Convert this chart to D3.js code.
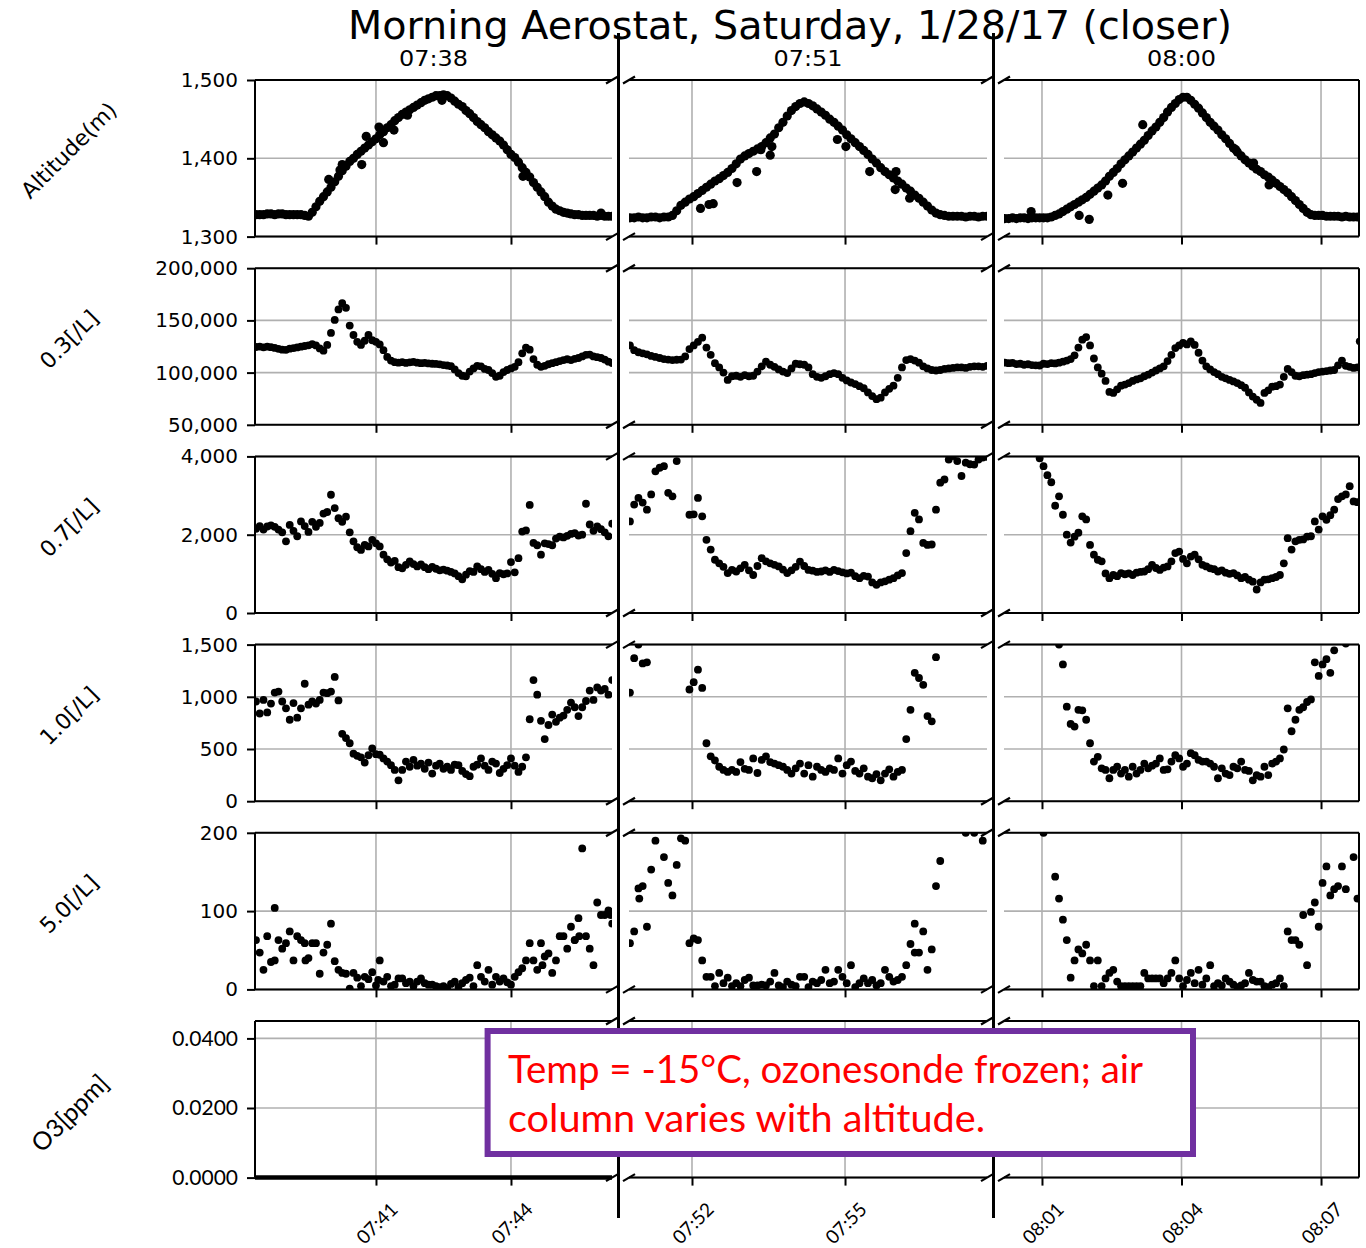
<!DOCTYPE html>
<html><head><meta charset="utf-8">
<script src="https://cdn.jsdelivr.net/npm/d3@7"></script>
<style>body{margin:0;background:#fff}</style>
</head><body>
<svg id="c" width="1366" height="1248"></svg>
<script>
// ================= DATA =================
const chartTitle = "Morning Aerostat, Saturday, 1/28/17 (closer)";
const columnHeaders = ["07:38","07:51","08:00"];
const columnStart = ["07:38:20","07:50:47","08:00:12"];   // first sample of each segment
const sampleStepSec = 5;
const columnDomain = [["07:38:18.7","07:46:14.7"],["07:50:45.9","07:57:47"],["08:00:11","08:07:49"]];
const columnTicks = [["07:41","07:44"],["07:52","07:55"],["08:01","08:04","08:07"]];
const rowLabels = ["Altitude(m)","0.3[/L]","0.7[/L]","1.0[/L]","5.0[/L]","O3[ppm]"];
const rowDomains = [[1300,1500],[50000,200000],[0,4000],[0,1500],[0,200],[0,0.045]];
const rowTicks = [[1300,1400,1500],[50000,100000,150000,200000],[0,2000,4000],[0,500,1000,1500],[0,100,200],[0,0.02,0.04]];
const noteLines = ["Temp = -15°C, ozonesonde frozen; air","column varies with altitude."];

// Altitude (m)
const alt1 = [1328,1328,1328,1329,1329,1328,1329,1329,1328,1328,
1328,1328,1328,1327,1326,1331,1338,1345,1351,1357,
1363,1370,1377,1384,1390,1396,1400,1405,1409,1413,
1417,1421,1425,1430,1434,1439,1443,1448,1452,1456,
1459,1462,1465,1468,1471,1474,1476,1478,1480,1480,
1481,1480,1477,1473,1469,1466,1461,1457,1452,1447,
1443,1439,1434,1430,1426,1422,1417,1411,1405,1401,
1395,1388,1382,1376,1369,1363,1357,1351,1344,1339,
1335,1333,1331,1330,1329,1328,1328,1327,1327,1327,
1327,1326,1327,1326,1326,1326];
const alt2 = [1324,1324,1325,1324,1324,1325,1325,1324,1325,1325,
1327,1333,1340,1344,1348,1351,1355,1359,1363,1367,
1371,1374,1378,1382,1387,1393,1399,1403,1406,1409,
1412,1415,1420,1426,1431,1439,1446,1454,1461,1466,
1470,1472,1470,1467,1463,1459,1455,1450,1446,1441,
1436,1430,1425,1420,1415,1410,1405,1399,1394,1388,
1383,1379,1375,1371,1367,1362,1358,1353,1349,1344,
1339,1334,1330,1328,1327,1326,1326,1326,1326,1325,
1326,1326,1325,1326,1326];
const alt3 = [1323,1323,1324,1323,1324,1324,1323,1324,1324,1324,
1324,1324,1325,1327,1329,1332,1335,1338,1341,1344,
1347,1350,1354,1358,1362,1366,1371,1377,1382,1387,
1393,1398,1403,1408,1413,1418,1423,1429,1435,1440,
1446,1452,1459,1465,1470,1475,1478,1478,1474,1469,
1464,1458,1452,1446,1441,1436,1430,1425,1419,1413,
1408,1403,1398,1394,1390,1386,1383,1379,1376,1372,
1368,1364,1360,1356,1351,1346,1341,1336,1331,1328,
1327,1327,1327,1326,1326,1326,1326,1325,1326,1325,
1325,1325];
// scattered altitude readings: [seconds after segment start, value]
const altOut1 = [[97,1373],[112,1385],[115,1392],[141,1392],[147,1428],[164,1440],[170,1420],[184,1436],[202,1455],[248,1474],[356,1377],[460,1330]];
const altOut2 = [[83,1336],[93,1341],[98,1342],[126,1369],[149,1383],[154,1411],[165,1404],[167,1415],[244,1424],[254,1415],[282,1383],[313,1383],[312,1360],[329,1349]];
const altOut3 = [[34,1332],[96,1327],[109,1322],[133,1353],[152,1368],[178,1443],[298,1411],[321,1394],[341,1366]];

// 0.3 um [/L]
const p03_1 = [124500,124900,124200,124800,124400,123600,122800,122000,121800,122900,
123500,124100,124800,125500,126100,127300,126000,123200,121000,126500,
138000,150500,160500,166500,162000,145000,136000,129500,126500,130500,
136000,131000,129500,127000,121500,115000,111500,110000,109500,110000,
109300,109800,110200,109500,109000,109300,108800,108500,108300,107900,
107200,106800,106200,103000,99500,97000,96500,101000,104000,106500,
106000,103500,102500,99500,96000,97000,100500,102500,104000,105500,
110000,118500,124000,122000,113000,107500,105500,106500,108000,109000,
110000,111000,112000,112800,112000,113200,114000,115500,117000,117300,
115500,114800,114000,112500,110500,109000];
const p03_2 = [126000,121500,119500,118500,117500,116000,115000,114000,113000,112500,
112000,112300,112500,115500,122500,126000,129500,133500,124000,117000,
109000,105000,100000,93000,96500,97000,96000,97500,96500,97000,
101000,106000,110500,107500,105500,103000,101000,99500,104000,108500,
108000,107500,105000,98500,96000,95000,96500,98500,99500,98500,
95000,92500,90500,89000,87000,85000,81000,77500,74500,76000,
81000,84500,87500,95000,105000,112000,113000,111500,109500,106000,
104000,102500,102000,102500,103500,104000,104500,105000,105000,104500,
105500,106000,106000,105500,106500];
const p03_3 = [109500,109000,109300,108200,108500,107500,108000,107200,107000,106800,
108500,108200,109000,108800,109500,110500,111500,113000,116500,124000,
131500,134000,126000,113500,105000,99000,92000,81500,80500,84000,
87500,88500,90000,92000,93500,94500,96500,98000,100000,102000,
104000,106000,111000,117000,123500,126000,128500,127000,130000,126500,
119000,111500,106000,103000,100500,98500,96000,94500,93000,91500,
90000,88000,85500,81000,77000,74000,71000,80500,83000,86500,
87000,88500,96000,103500,100500,97000,96500,97500,98000,98500,
99500,100500,101000,101500,102000,102500,107000,111500,106500,105500,
104500,105000];
const p03Out3 = [[458,130000]];

// 0.7 um [/L]
const p07_1 = [2150,2220,2130,2210,2240,2200,2130,2060,1830,2250,
2100,1960,2340,2220,2070,2330,2200,2300,2540,2580,
3020,2680,2420,2330,2460,2060,1830,1680,1610,1740,
1700,1870,1780,1700,1490,1370,1290,1330,1170,1140,
1230,1320,1250,1190,1240,1170,1120,1180,1130,1090,
1110,1080,1050,1010,940,860,980,1070,1050,1190,
1120,1050,1100,1000,890,1020,990,1010,1300,1040,
1400,2080,2110,2760,1790,1730,1490,1780,1760,1730,
1900,1950,1930,1970,2020,2040,1980,2000,2790,2260,
2100,2210,2140,2060,1960,2280];
const p07_2 = [2340,2770,2940,2820,2640,3030,3620,3710,3750,3070,
2980,3880,null,null,2510,2520,2940,2470,1870,1620,
1360,1270,1180,1020,1100,1060,1140,1230,1090,970,
1200,1400,1320,1270,1230,1190,1110,1020,1090,1180,
1310,1200,1100,1080,1050,1060,1090,1050,1100,1070,
1040,1010,1030,940,890,950,930,780,720,780,
810,850,890,960,1020,1530,2090,2560,2390,1790,
1740,1750,2640,3330,3410,3920,4010,3880,3500,3840,
3800,3790,3920,3970,3990];
const p07_3 = [null,null,null,null,null,null,null,null,null,3950,
3750,3520,3340,2740,2980,2510,2000,1800,1950,2050,
2470,2390,1740,1490,1360,1320,1010,890,970,940,
1020,990,1010,970,1030,1050,1060,1120,1230,1150,
1100,1160,1190,1320,1530,1570,1380,1270,1440,1490,
1370,1230,1190,1140,1120,1060,1090,1030,1000,1020,
960,890,920,850,800,600,780,850,860,890,
920,970,1270,1910,1620,1830,1870,1880,1950,1960,
2340,2130,2470,2380,2500,2640,2910,2980,3030,3240,
2850,2830];

// 1.0 um [/L]
const p10_1 = [955,840,970,850,935,1040,1050,955,890,780,
940,800,890,1125,925,955,935,970,1040,1035,
1050,1190,965,645,605,555,455,435,420,370,
440,505,450,445,410,380,345,300,200,300,
380,330,395,340,360,310,370,265,340,360,
310,330,300,350,345,290,260,240,330,350,
410,340,300,380,360,270,310,345,410,340,
280,330,420,785,1160,1020,770,595,730,830,
760,800,820,875,945,900,815,900,960,1060,
970,1090,1060,1075,1020,1160];
const p10_2 = [1040,1370,1500,1320,1330,null,null,null,null,null,
null,null,null,null,1070,1140,1260,1085,555,430,
390,330,300,280,300,280,375,310,300,410,
270,395,430,375,360,345,330,300,265,315,
360,265,345,235,330,300,280,315,300,410,
265,345,380,290,265,315,235,220,260,200,
265,305,235,280,300,595,875,1230,1180,1115,
815,765,1380,null,null,null,null,null,null,null,
null,null,null,null,null];
const p10_3 = [null,null,null,null,null,null,null,null,null,null,
null,null,null,null,1500,1310,905,740,715,875,
870,780,555,380,425,315,300,220,300,330,
265,300,235,330,265,300,360,315,340,360,
410,300,305,380,440,410,330,360,460,440,
395,380,380,360,330,220,315,265,250,330,
315,380,300,290,200,250,235,330,250,360,
380,410,495,890,670,780,875,900,950,975,
1330,1200,1310,1360,1230,1445,null,null,1510,null,
null,null];

// 5.0 um [/L]
const p50_1 = [63,47,25,68,35,104,63,52,59,74,
37,68,63,59,40,59,59,20,47,57,
84,36,25,21,20,1,21,15,4,16,
13,22,5,37,10,16,4,6,14,14,
8,10,4,10,14,8,6,6,4,3,
4,1,7,10,3,8,12,15,4,31,
16,10,25,6,16,10,14,9,6,16,
22,27,37,59,37,25,59,42,46,21,
37,68,68,52,80,63,91,180,68,52,
31,111,95,95,101,84];
const p50_2 = [59,74,129,132,80,153,190,null,169,136,
120,159,193,190,59,65,63,37,16,16,
4,21,8,15,4,8,4,12,15,5,
5,6,5,10,21,5,3,10,6,4,
16,16,3,10,8,12,25,8,10,25,
16,8,31,3,8,14,8,12,5,8,
25,16,10,12,16,31,58,84,47,74,
25,51,132,164,null,null,null,null,null,200,
null,200,null,190,null];
const p50_3 = [null,null,null,null,null,null,null,null,null,null,
200,null,null,144,116,89,63,15,37,51,
46,57,37,4,37,4,14,21,25,10,
4,4,4,4,4,4,21,14,14,14,
14,8,14,21,37,14,4,12,21,8,
25,6,14,31,4,8,5,14,10,6,
3,5,8,21,12,10,10,4,3,6,
8,14,4,74,63,63,57,95,31,99,
111,80,136,157,120,128,132,157,128,null,
169,116];
const p50Out1 = [[25,37],[66,37],[163,12],[382,31],[425,63],[431,68],[473,95]];
const p50Out2 = [[11,116],[335,47]];

// O3 [ppm]: sensor frozen, no readings shown
const o3_1 = [], o3_2 = [], o3_3 = [];

// ================= DRAWING =================
const series = [[alt1,alt2,alt3],[p03_1,p03_2,p03_3],[p07_1,p07_2,p07_3],[p10_1,p10_2,p10_3],[p50_1,p50_2,p50_3],[o3_1,o3_2,o3_3]];
const extras = [[altOut1,altOut2,altOut3],[[],[],p03Out3],[[],[],[]],[[],[],[]],[p50Out1,p50Out2,[]],[[],[],[]]];

const parseT = s => { const p = s.split(":"); const sec = parseFloat(p[2] || "0");
  return new Date(2017,0,28,+p[0],+p[1],0,Math.round(sec*1000)); };

const svg = d3.select("#c");
const colX = [[255,612],[629,987],[1004,1359]];
const rowTop0 = 80, rowPitch = 188.2, rowH = 156.6;
const gridColor = "#b0b0b0";
const DJ = "DejaVu Sans", CAL = "Lato";
const yFmt = [d3.format(","),d3.format(","),d3.format(","),d3.format(","),d3.format(","),d3.format(".4f")];
const dotR = [4.6, 3.9, 3.9, 3.9, 3.9, 3.9];

const defs = svg.append("defs");
const gGrid = svg.append("g"), gDots = svg.append("g"), gAxes = svg.append("g"), gText = svg.append("g");

for (let r = 0; r < 6; r++) {
  const top = rowTop0 + r*rowPitch, bot = top + rowH;
  const y = d3.scaleLinear().domain(rowDomains[r]).range([bot, top]);
  for (let c = 0; c < 3; c++) {
    const [x0, x1] = colX[c];
    const x = d3.scaleTime().domain(columnDomain[c].map(parseT)).range([x0, x1]);
    const xt = columnTicks[c].map(parseT);
    const id = `clip${r}_${c}`;
    defs.append("clipPath").attr("id", id).append("rect")
      .attr("x", x0).attr("y", top).attr("width", x1 - x0).attr("height", rowH);

    // grid
    gGrid.append("g").selectAll("line").data(xt).join("line")
      .attr("x1", d => x(d)).attr("x2", d => x(d)).attr("y1", top).attr("y2", bot)
      .attr("stroke", gridColor).attr("stroke-width", 1.6);
    gGrid.append("g").selectAll("line").data(rowTicks[r]).join("line")
      .attr("x1", x0).attr("x2", x1).attr("y1", d => y(d)).attr("y2", d => y(d))
      .attr("stroke", gridColor).attr("stroke-width", 1.6);

    // dots
    const t0 = parseT(columnStart[c]);
    const pts = series[r][c].map((v, i) => ({t: new Date(+t0 + i*sampleStepSec*1000), v}))
      .filter(d => d.v != null)
      .concat(extras[r][c].map(([s, v]) => ({t: new Date(+t0 + s*1000), v})));
    gDots.append("g").attr("clip-path", `url(#${id})`)
      .selectAll("circle").data(pts).join("circle")
      .attr("cx", d => x(d.t)).attr("cy", d => y(d.v)).attr("r", dotR[r]).attr("fill", "#000");

    // spines
    const sp = gAxes.append("g").attr("stroke", "#000").attr("stroke-width", 2);
    sp.append("line").attr("x1", x0).attr("x2", x1).attr("y1", top).attr("y2", top);
    sp.append("line").attr("x1", x0).attr("x2", x1).attr("y1", bot).attr("y2", bot)
      .attr("stroke-width", (r === 5 && c === 0) ? 4.5 : 2);
    if (c === 0) sp.append("line").attr("x1", x0).attr("x2", x0).attr("y1", top).attr("y2", bot);
    if (c === 2) sp.append("line").attr("x1", x1).attr("x2", x1).attr("y1", top).attr("y2", bot);

    // bottom ticks
    const ax = d3.axisBottom(x).tickValues(xt).tickSize(8)
      .tickFormat(r === 5 ? d3.timeFormat("%H:%M") : () => "");
    const g = gAxes.append("g").attr("transform", `translate(0,${bot})`).call(ax);
    g.select(".domain").remove();
    g.selectAll(".tick line").attr("stroke", "#000").attr("stroke-width", 2);
    if (r === 5) {
      g.selectAll(".tick text").attr("y", null).attr("dy", null)
        .attr("transform", "translate(0,45) rotate(-45)")
        .attr("text-anchor", "middle").attr("dominant-baseline", "central")
        .attr("font-family", CAL).attr("font-size", 19).attr("fill", "#000");
    }

    // left axis
    if (c === 0) {
      const ay = d3.axisLeft(y).tickValues(rowTicks[r]).tickSize(8).tickPadding(9).tickFormat(yFmt[r]);
      const gy = gAxes.append("g").attr("transform", `translate(${x0},0)`).call(ay);
      gy.select(".domain").remove();
      gy.selectAll(".tick line").attr("stroke", "#000").attr("stroke-width", 2);
      gy.selectAll(".tick text").attr("fill", "#000")
        .attr("font-family", r === 5 ? CAL : DJ).attr("font-size", r === 5 ? 21 : 20);
    }
  }
  // break marks
  for (const yy of [top, bot]) {
    for (const px of [612, 629, 987, 1004]) {
      gAxes.append("line").attr("x1", px - 6).attr("y1", yy + 3.5).attr("x2", px + 6).attr("y2", yy - 3.5)
        .attr("stroke", "#000").attr("stroke-width", 2.2);
    }
  }
  // row label
  const cy = top + rowH/2 + (r === 0 ? -8 : (r === 5 ? 13 : -7));
  gText.append("text").attr("transform", `translate(69,${cy}) rotate(-45)`)
    .attr("text-anchor", "middle").attr("dominant-baseline", "central")
    .attr("font-family", r === 5 ? CAL : DJ).attr("font-size", r === 5 ? 25 : 22)
    .attr("fill", "#000").text(rowLabels[r]);
}

// title and segment headers
gText.append("text").attr("x", 790).attr("y", 39).attr("text-anchor", "middle")
  .attr("font-family", DJ).attr("font-size", 39).attr("textLength", 884)
  .attr("lengthAdjust", "spacingAndGlyphs").attr("fill", "#000").text(chartTitle);
colX.forEach(([a, b], c) => {
  gText.append("text").attr("x", (a + b)/2).attr("y", 66).attr("text-anchor", "middle")
    .attr("font-family", DJ).attr("font-size", 21).attr("textLength", 69)
    .attr("lengthAdjust", "spacingAndGlyphs").attr("fill", "#000").text(columnHeaders[c]);
});

// segment dividers
[618.5, 993.5].forEach(xx => {
  svg.append("line").attr("x1", xx).attr("x2", xx).attr("y1", 33).attr("y2", 1218)
    .attr("stroke", "#000").attr("stroke-width", 3);
});

// annotation
const note = svg.append("g");
note.append("rect").attr("x", 487.6).attr("y", 1031).attr("width", 705.4).attr("height", 123)
  .attr("fill", "#fff").attr("stroke", "#7030A0").attr("stroke-width", 6);
const noteW = [635, 477];
noteLines.forEach((t, i) => {
  note.append("text").attr("x", 508).attr("y", 1083 + i*49)
    .attr("font-family", CAL).attr("font-size", 39).attr("fill", "#ff0000")
    .attr("textLength", noteW[i]).attr("lengthAdjust", "spacingAndGlyphs").text(t);
});
</script>
</body></html>
